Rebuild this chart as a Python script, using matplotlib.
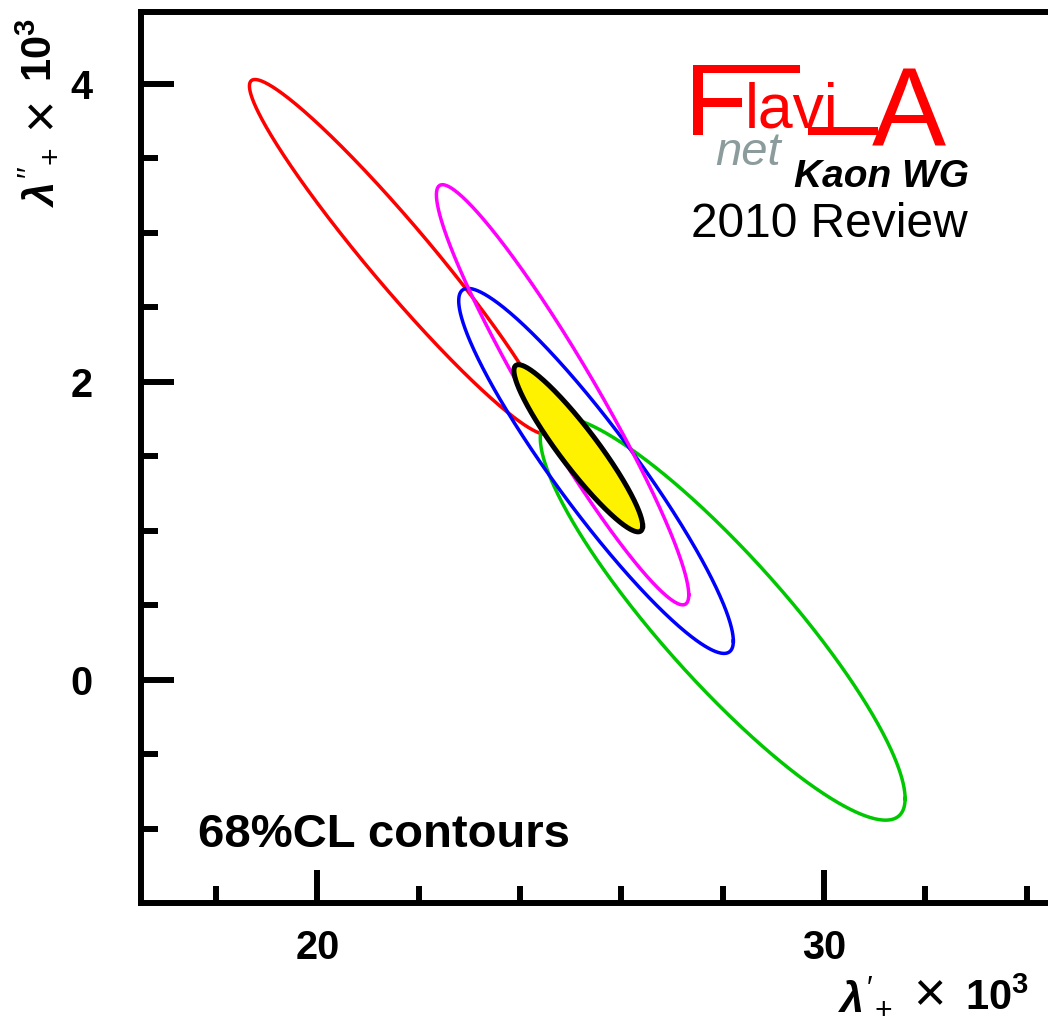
"""68% CL contours of lambda'_+ vs lambda''_+ (FlaviaNet Kaon WG 2010 review style)."""
import numpy as np
import matplotlib
matplotlib.use("Agg")
import matplotlib.pyplot as plt
from matplotlib.patches import Rectangle

plt.rcParams["font.family"] = ["Liberation Sans", "DejaVu Sans"]
plt.rcParams["mathtext.fontset"] = "custom"
plt.rcParams["mathtext.rm"] = "Liberation Sans"
plt.rcParams["mathtext.it"] = "Liberation Sans:italic:bold"
plt.rcParams["mathtext.bf"] = "Liberation Sans:bold"

W, H = 1048, 1017

# ellipse parameters (units of 10^-3)
labels = ["red", "green", "blue", "magenta", "average"]
colors = ["#ff0000", "#00c800", "#0000ff", "#ff00ff", "#000000"]
cx = [21.63, 28.00, 25.50, 24.84, 25.15]
cy = [2.84, 0.414, 1.403, 1.914, 1.555]
sx = [2.97, 3.60, 2.71, 2.49, 1.27]
sy = [1.19, 1.355, 1.225, 1.41, 0.561]
rho = [-0.963, -0.893, -0.932, -0.952, -0.929]

x_major = [20, 30]
x_minor = [18, 22, 24, 26, 28, 32, 34]
y_major = [0, 2, 4]
y_minor = [-1, -0.5, 0.5, 1, 1.5, 2.5, 3, 3.5]


def px(x):
    return x / W


def py(y):
    return 1 - y / H


def bar(x0, x1, y0, y1, color):
    # filled box given in picture pixels (top-left origin)
    fig.patches.append(Rectangle((px(x0), py(y1)), (x1 - x0) / W, (y1 - y0) / H,
                                 transform=fig.transFigure, color=color, lw=0))


fig = plt.figure(figsize=(W / 100, H / 100), dpi=100)
ax = fig.add_axes([px(141), py(903), 1 - px(141), py(12) - py(903)])

t = np.linspace(0, 2 * np.pi, 600)
for name, c, x0, y0, a, b, r in zip(labels, colors, cx, cy, sx, sy, rho):
    xs = x0 + a * np.cos(t)
    ys = y0 + b * (r * np.cos(t) + np.sqrt(1 - r ** 2) * np.sin(t))
    if name == "average":
        ax.fill(xs, ys, color="#fff200", zorder=5)
        ax.plot(xs, ys, color=c, lw=3.6, zorder=6)
    else:
        ax.plot(xs, ys, color=c, lw=2.5, zorder=3)

ax.set_xlim(16.52, 34.42)
ax.set_ylim(-1.497, 4.483)

for side in ["top", "left", "bottom"]:
    ax.spines[side].set_linewidth(4.3)
ax.spines["right"].set_visible(False)

ax.set_xticks(x_major)
ax.set_xticks(x_minor, minor=True)
ax.set_yticks(y_major)
ax.set_yticks(y_minor, minor=True)
ax.tick_params(which="both", direction="in", width=4.3, top=False, right=False)
ax.tick_params(which="major", length=24)
ax.tick_params(which="minor", length=12)
ax.tick_params(axis="x", which="major", pad=19)
ax.tick_params(axis="y", which="major", pad=35)
for lab in ax.get_xticklabels() + ax.get_yticklabels():
    lab.set_fontsize(28.5)
    lab.set_fontweight("bold")

ax.text(0.0625, (903 - 847) / (903 - 12), "68%CL contours", transform=ax.transAxes,
        fontsize=34, fontweight="bold", ha="left", va="baseline")

# x axis title, in pieces: lambda'_+  x  10^3
fig.text(px(838), py(1010), r"$\lambda'_{+}$", fontsize=31, ha="left", va="baseline")
fig.text(px(913), py(1010), "\u00d7", fontsize=40, ha="left", va="baseline")
fig.text(px(965), py(1010), r"$\mathbf{10^3}$", fontsize=30, ha="left", va="baseline")

# y axis title, rotated, same pieces
rot = dict(rotation=90, rotation_mode="anchor", ha="left", va="baseline")
fig.text(px(52), py(207), r"$\lambda''_{+}$", fontsize=31, **rot)
fig.text(px(55), py(129), "\u00d7", fontsize=40, **rot)
fig.text(px(52), py(82), r"$\mathbf{10^3}$", fontsize=30, **rot)

# FlaviaNet logo
red = "#ff0000"
bar(693, 800, 65, 73, red)     # F top bar
bar(693, 703, 65, 135, red)    # F stem
bar(693, 742, 98, 107, red)    # F middle arm
fig.text(px(745), py(127), "lavi", fontsize=45, color=red, ha="left", va="baseline")
bar(808, 878, 127, 135, red)   # base bar into the A
fig.text(px(872), py(145), "A", fontsize=80, color=red, ha="left", va="baseline")
fig.text(px(715), py(165), "net", fontsize=34, color="#8c9c9c", style="italic",
         ha="left", va="baseline")
fig.text(px(794), py(187), "Kaon WG", fontsize=28, fontweight="bold", style="italic",
         ha="left", va="baseline")
fig.text(px(691), py(237), "2010 Review", fontsize=34.5, ha="left", va="baseline")

fig.savefig("out.png", dpi=100)
